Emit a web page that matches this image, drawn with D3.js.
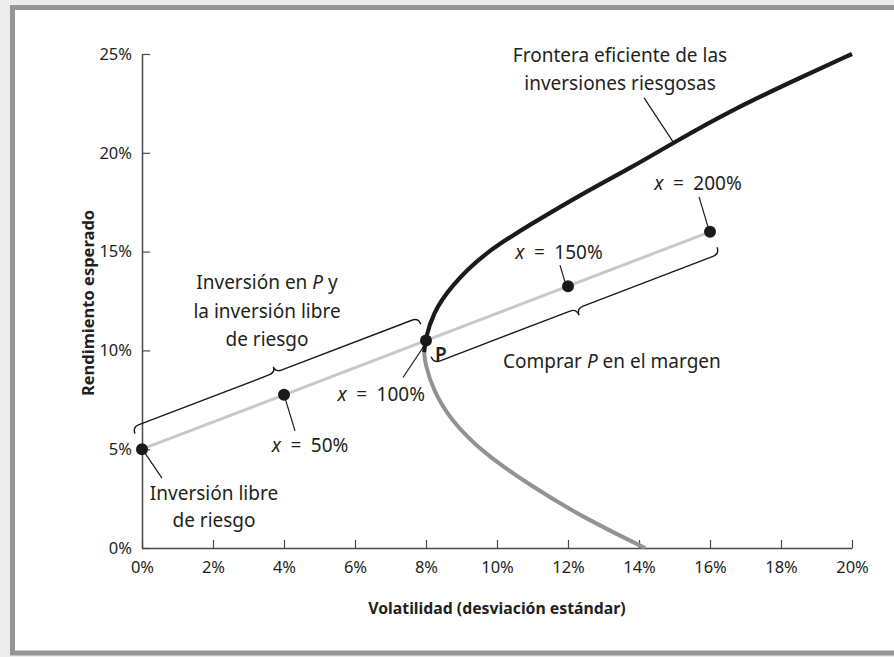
<!DOCTYPE html>
<html>
<head>
<meta charset="utf-8">
<script src="https://cdn.jsdelivr.net/npm/d3@7"></script>
<style>
  html, body { margin: 0; padding: 0; background: #ececec; }
  svg { display: block; font-family: "Noto Sans", "Open Sans", sans-serif; }
</style>
</head>
<body>
<div id="chart"></div>
<script>
// Efficient frontier + capital allocation line (in %)
const frontierVol = [7.95, 7.97, 8.2, 8.68, 9.61, 11.01, 12.42, 13.83, 14.96, 16.65, 18.54, 20.0];
const frontierRet = [9.9, 10.5, 11.9, 13.2, 14.9, 16.45, 17.95, 19.3, 20.5, 22.2, 23.8, 25.0];

// Inefficient part of the hyperbola (below the minimum variance point)
const lowerVol = [7.95, 7.97, 8.2, 8.68, 9.61, 11.0, 12.42, 14.17];
const lowerRet = [9.9, 9.35, 8.0, 6.5, 4.8, 3.1, 1.55, 0];

// Portfolios on the line through the risk-free asset and P
const weights = ['0%', '50%', '100%', '150%', '200%'];
const lineVol = [0, 4, 8, 12, 16];
const lineRet = [5, 7.75, 10.5, 13.25, 16];

const xTicks = [0, 2, 4, 6, 8, 10, 12, 14, 16, 18, 20];
const yTicks = [0, 5, 10, 15, 20, 25];

const W = 894, H = 657;
const svg = d3.select('#chart').append('svg')
    .attr('width', W)
    .attr('height', H);

// panel frame
svg.append('rect')
    .attr('x', 12.5).attr('y', 7.5)
    .attr('width', W).attr('height', 645.5)
    .attr('fill', '#fff')
    .attr('stroke', '#959595')
    .attr('stroke-width', 5);

const x = d3.scaleLinear().domain([0, 20]).range([142, 852]);
const y = d3.scaleLinear().domain([0, 25]).range([548, 54]);

const textColor = '#231f20';
const labelSize = 19;

// axes
const xAxis = svg.append('g')
    .attr('transform', `translate(0,${y(0)})`)
    .call(d3.axisBottom(x).tickValues(xTicks).tickFormat(d => d + '%')
        .tickSizeInner(-8).tickSizeOuter(0).tickPadding(13));
const yAxis = svg.append('g')
    .attr('transform', `translate(${x(0)},0)`)
    .call(d3.axisLeft(y).tickValues(yTicks).tickFormat(d => d + '%')
        .tickSizeInner(-8).tickSizeOuter(0).tickPadding(10));

[xAxis, yAxis].forEach(ax => {
    ax.select('.domain').attr('stroke', '#4a4a4a').attr('stroke-width', 1.5);
    ax.selectAll('.tick line').attr('stroke', '#4a4a4a').attr('stroke-width', 1.2);
    ax.selectAll('.tick text')
        .attr('fill', textColor)
        .style('font-size', '16.5px')
        .style('font-family', '"Noto Sans", sans-serif');
});

// axis titles
svg.append('text')
    .attr('x', (x(0) + x(20)) / 2)
    .attr('y', 614)
    .attr('text-anchor', 'middle')
    .attr('font-size', 15.8)
    .attr('font-weight', 'bold')
    .attr('fill', textColor)
    .text('Volatilidad (desviación estándar)');

svg.append('text')
    .attr('transform', `translate(94,${y(12.4)}) rotate(-90)`)
    .attr('text-anchor', 'middle')
    .attr('font-size', 16.5)
    .attr('font-weight', 'bold')
    .attr('fill', textColor)
    .text('Rendimiento esperado');

const curve = d3.line()
    .x(d => x(d[0]))
    .y(d => y(d[1]))
    .curve(d3.curveBasis);

// capital allocation line
svg.append('path')
    .datum([[lineVol[0], lineRet[0]], [lineVol[4], lineRet[4]]])
    .attr('d', d3.line().x(d => x(d[0])).y(d => y(d[1])))
    .attr('stroke', '#c9c9c9')
    .attr('stroke-width', 3)
    .attr('fill', 'none');

// inefficient portion
svg.append('path')
    .datum(lowerVol.map((v, i) => [v, lowerRet[i]]))
    .attr('d', curve)
    .attr('stroke', '#939393')
    .attr('stroke-width', 4)
    .attr('fill', 'none');

// efficient frontier
svg.append('path')
    .datum(frontierVol.map((v, i) => [v, frontierRet[i]]))
    .attr('d', curve)
    .attr('stroke', '#1a1a1a')
    .attr('stroke-width', 4.2)
    .attr('fill', 'none');

// curly brace drawn along the line between two data points, offset to one side
function brace(a, b, side, body, hook, tip) {
    const p0 = [x(a[0]), y(a[1])], p1 = [x(b[0]), y(b[1])];
    const len = Math.hypot(p1[0] - p0[0], p1[1] - p0[1]);
    const u = [(p1[0] - p0[0]) / len, (p1[1] - p0[1]) / len];
    const n = [-u[1] * side, u[0] * side];
    const P = (s, o) => [p0[0] + u[0] * s + n[0] * o, p0[1] + u[1] * s + n[1] * o];
    const w = 7, mid = len / 2;
    const p = d3.path();
    p.moveTo(...P(-1, hook));
    p.quadraticCurveTo(...P(-1, body), ...P(-1 + w, body));
    p.lineTo(...P(mid - w, body));
    p.quadraticCurveTo(...P(mid, body), ...P(mid, tip));
    p.quadraticCurveTo(...P(mid, body), ...P(mid + w, body));
    p.lineTo(...P(len + 1 - w, body));
    p.quadraticCurveTo(...P(len + 1, body), ...P(len + 1, hook));
    svg.append('path')
        .attr('d', p.toString())
        .attr('stroke', '#1a1a1a')
        .attr('stroke-width', 1.4)
        .attr('fill', 'none');
}
brace([lineVol[0], lineRet[0]], [lineVol[2], lineRet[2]], -1, 24, 17, 30);
brace([lineVol[2], lineRet[2]], [lineVol[4], lineRet[4]], 1, 24, 17, 31);

// leader lines (anchor in data space, pixel offsets)
const leaders = [
    {i: 0, from: [3, 4], to: [20, 29]},
    {i: 1, from: [1, 3], to: [11, 36]},
    {i: 2, from: [-1, 4], to: [-23, 37]},
    {i: 3, from: [-3, -4], to: [-8, -21]},
    {i: 4, from: [-2, -5], to: [-11, -35]}
];
leaders.forEach(l => {
    const cx = x(lineVol[l.i]), cy = y(lineRet[l.i]);
    svg.append('line')
        .attr('x1', cx + l.from[0]).attr('y1', cy + l.from[1])
        .attr('x2', cx + l.to[0]).attr('y2', cy + l.to[1])
        .attr('stroke', '#1a1a1a').attr('stroke-width', 1.2);
});
// frontier leader
svg.append('line')
    .attr('x1', x(14.96) - 29).attr('y1', y(20.55) - 44)
    .attr('x2', x(14.96)).attr('y2', y(20.55))
    .attr('stroke', '#1a1a1a').attr('stroke-width', 1.2);

// portfolio dots
svg.append('g')
    .selectAll('circle')
    .data(lineVol)
    .enter()
    .append('circle')
    .attr('cx', d => x(d))
    .attr('cy', (d, i) => y(lineRet[i]))
    .attr('r', 6)
    .attr('fill', '#1a1a1a');

// weight labels
const weightLabels = [
    {i: 1, dx: 26, dy: 57, anchor: 'middle'},
    {i: 2, dx: -1, dy: 60, anchor: 'end'},
    {i: 3, dx: -9, dy: -27, anchor: 'middle'},
    {i: 4, dx: -12, dy: -42, anchor: 'middle'}
];
weightLabels.forEach(w => {
    const t = svg.append('text')
        .attr('x', x(lineVol[w.i]) + w.dx)
        .attr('y', y(lineRet[w.i]) + w.dy)
        .attr('text-anchor', w.anchor)
        .attr('font-size', labelSize)
        .attr('fill', textColor);
    t.append('tspan').attr('font-style', 'italic').text('x');
    t.append('tspan').text('\u2002=\u2002' + weights[w.i]);
});

function multiline(lines, cx, y0, step, anchor) {
    const t = svg.append('text')
        .attr('text-anchor', anchor || 'middle')
        .attr('font-size', labelSize)
        .attr('fill', textColor);
    lines.forEach((parts, k) => {
        const line = t.append('tspan').attr('x', cx).attr('y', y0 + k * step);
        parts.forEach(p => {
            line.append('tspan')
                .attr('font-style', p.italic ? 'italic' : null)
                .text(p.text);
        });
    });
}

multiline([[{text: 'Frontera eficiente de las'}], [{text: 'inversiones riesgosas'}]], 620, 62, 28);
multiline([
    [{text: 'Inversión en '}, {text: 'P', italic: true}, {text: ' y'}],
    [{text: 'la inversión libre'}],
    [{text: 'de riesgo'}]
], 267, 289, 28.5);
multiline([[{text: 'Inversión libre'}], [{text: 'de riesgo'}]], 214, 500, 27);
multiline([[{text: 'Comprar '}, {text: 'P', italic: true}, {text: ' en el margen'}]], 503, 368, 0, 'start');

svg.append('text')
    .attr('x', x(lineVol[2]) + 9)
    .attr('y', y(lineRet[2]) + 20)
    .attr('font-size', 19)
    .attr('font-weight', 600)
    .attr('fill', textColor)
    .text('P');
</script>
</body>
</html>
